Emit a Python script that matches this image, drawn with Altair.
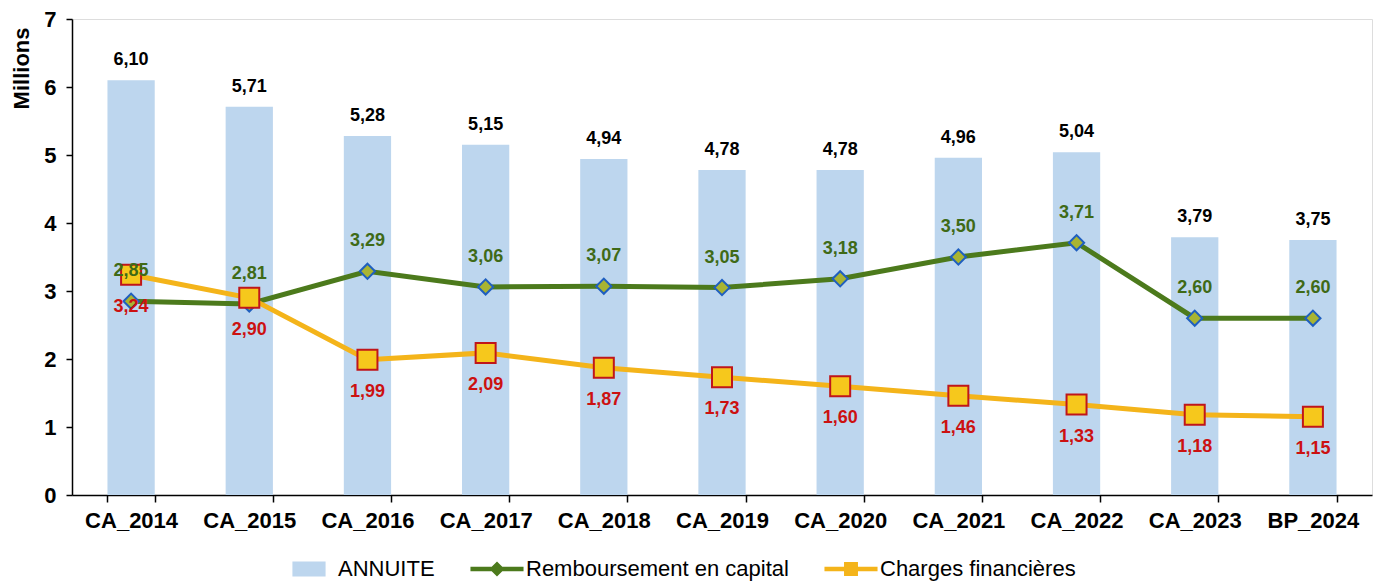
import altair as alt
import pandas as pd

categories = ["CA_2014", "CA_2015", "CA_2016", "CA_2017", "CA_2018", "CA_2019",
              "CA_2020", "CA_2021", "CA_2022", "CA_2023", "BP_2024"]
annuite = [6.10, 5.71, 5.28, 5.15, 4.94, 4.78, 4.78, 4.96, 5.04, 3.79, 3.75]
remboursement = [2.85, 2.81, 3.29, 3.06, 3.07, 3.05, 3.18, 3.50, 3.71, 2.60, 2.60]
charges = [3.24, 2.90, 1.99, 2.09, 1.87, 1.73, 1.60, 1.46, 1.33, 1.18, 1.15]

S_A = "ANNUITE"
S_R = "Remboursement en capital"
S_C = "Charges financières"
series = [S_A, S_R, S_C]

def fmt(v):
    return f"{v:.2f}".replace(".", ",")

bars_df = pd.DataFrame({"cat": categories, "val": annuite, "serie": S_A,
                        "lab": [fmt(v) for v in annuite]})
rem_df = pd.DataFrame({"cat": categories, "val": remboursement, "serie": S_R,
                       "lab": [fmt(v) for v in remboursement]})
chg_df = pd.DataFrame({"cat": categories, "val": charges, "serie": S_C,
                       "lab": [fmt(v) for v in charges]})
all_df = pd.concat([bars_df, rem_df, chg_df], ignore_index=True)

FONT = "Liberation Sans"
BLUE = "#bdd6ee"
GREEN = "#4c7a1c"
ORANGE = "#f4b41a"

x = alt.X("cat:N", sort=categories, title=None,
          scale=alt.Scale(paddingInner=0.6, paddingOuter=0.3),
          axis=alt.Axis(labelAngle=0, labelFontSize=22, labelFontWeight="bold",
                        labelColor="black", labelFont=FONT, tickBand="extent",
                        domainColor="black", tickColor="black", tickSize=7,
                        domainWidth=1.5, tickWidth=1.5, labelPadding=8))
y = alt.Y("val:Q", title="Millions",
          scale=alt.Scale(domain=[0, 7], nice=False),
          axis=alt.Axis(values=[0, 1, 2, 3, 4, 5, 6, 7], grid=False,
                        labelFontSize=22, labelFontWeight="bold", labelColor="black",
                        labelFont=FONT, titleFont=FONT, titleFontSize=22,
                        titleFontWeight="bold", titleColor="black",
                        titleY=8, titleAlign="right", titleAngle=270,
                        domainColor="black", tickColor="black", tickSize=6,
                        domainWidth=1.5, tickWidth=1.5, labelPadding=10,
                        titlePadding=10))

# legend symbols: bar swatch, line with diamond, line with square
legend_shapes = [
    "M-1,-0.45L1,-0.45L1,0.45L-1,0.45Z",
    "M-1.6,-0.13L-0.32,-0.13L0,-0.45L0.32,-0.13L1.6,-0.13L1.6,0.13L0.32,0.13L0,0.45L-0.32,0.13L-1.6,0.13Z",
    "M-1.6,-0.13L-0.42,-0.13L-0.42,-0.42L0.42,-0.42L0.42,-0.13L1.6,-0.13L1.6,0.13L0.42,0.13L0.42,0.42L-0.42,0.42L-0.42,0.13L-1.6,0.13Z",
]
legend = alt.Legend(title=None, orient="none", direction="horizontal",
                    legendX=220, legendY=533, labelFontSize=22, labelFont=FONT,
                    labelColor="black", symbolSize=1100, columnPadding=35,
                    labelOffset=12, symbolStrokeWidth=0, labelLimit=400,
                    symbolOpacity=1)

bars = alt.Chart(bars_df).mark_bar(color=BLUE).encode(x=x, y=y)
bar_text = alt.Chart(bars_df).mark_text(
    dy=-20, fontSize=18, fontWeight="bold", font=FONT, color="black"
).encode(x=x, y=y, text="lab:N")

rem_line = alt.Chart(rem_df).mark_line(color=GREEN, strokeWidth=5).encode(x=x, y=y)
rem_pts = alt.Chart(rem_df).mark_point(
    shape="diamond", filled=True, size=230, fill="#a9b432", stroke="#1f5fbf",
    strokeWidth=2, opacity=1
).encode(x=x, y=y)
rem_text = alt.Chart(rem_df).mark_text(
    dy=-30, fontSize=18, fontWeight="bold", font=FONT, color="#3f6a17"
).encode(x=x, y=y, text="lab:N")

chg_line = alt.Chart(chg_df).mark_line(color=ORANGE, strokeWidth=5).encode(x=x, y=y)
chg_pts = alt.Chart(chg_df).mark_point(
    shape="square", filled=True, size=400, fill="#f6c81c", stroke="#c0161a",
    strokeWidth=2, opacity=1
).encode(x=x, y=y)
chg_text = alt.Chart(chg_df).mark_text(
    dy=32, fontSize=18, fontWeight="bold", font=FONT, color="#cc1111"
).encode(x=x, y=y, text="lab:N")

# legend carrier (zero-size points)
legend_layer = alt.Chart(all_df).mark_point(filled=True, size=0, strokeWidth=0).encode(
    x=x, y=y,
    color=alt.Color("serie:N", sort=series,
                    scale=alt.Scale(domain=series, range=[BLUE, GREEN, ORANGE]),
                    legend=legend),
    shape=alt.Shape("serie:N", sort=series,
                    scale=alt.Scale(domain=series, range=legend_shapes),
                    legend=legend),
)

chart = alt.layer(
    bars, bar_text, rem_line, chg_line, rem_pts, chg_pts, rem_text, chg_text,
    legend_layer
).properties(
    width=1300, height=476,
    autosize=alt.AutoSizeParams(type="none"),
    padding={"left": 64, "top": 11, "right": 2, "bottom": 89},
).configure_view(stroke=None).configure(background="white")

chart.save("out.html", embed_options={"renderer": "svg", "actions": False})
